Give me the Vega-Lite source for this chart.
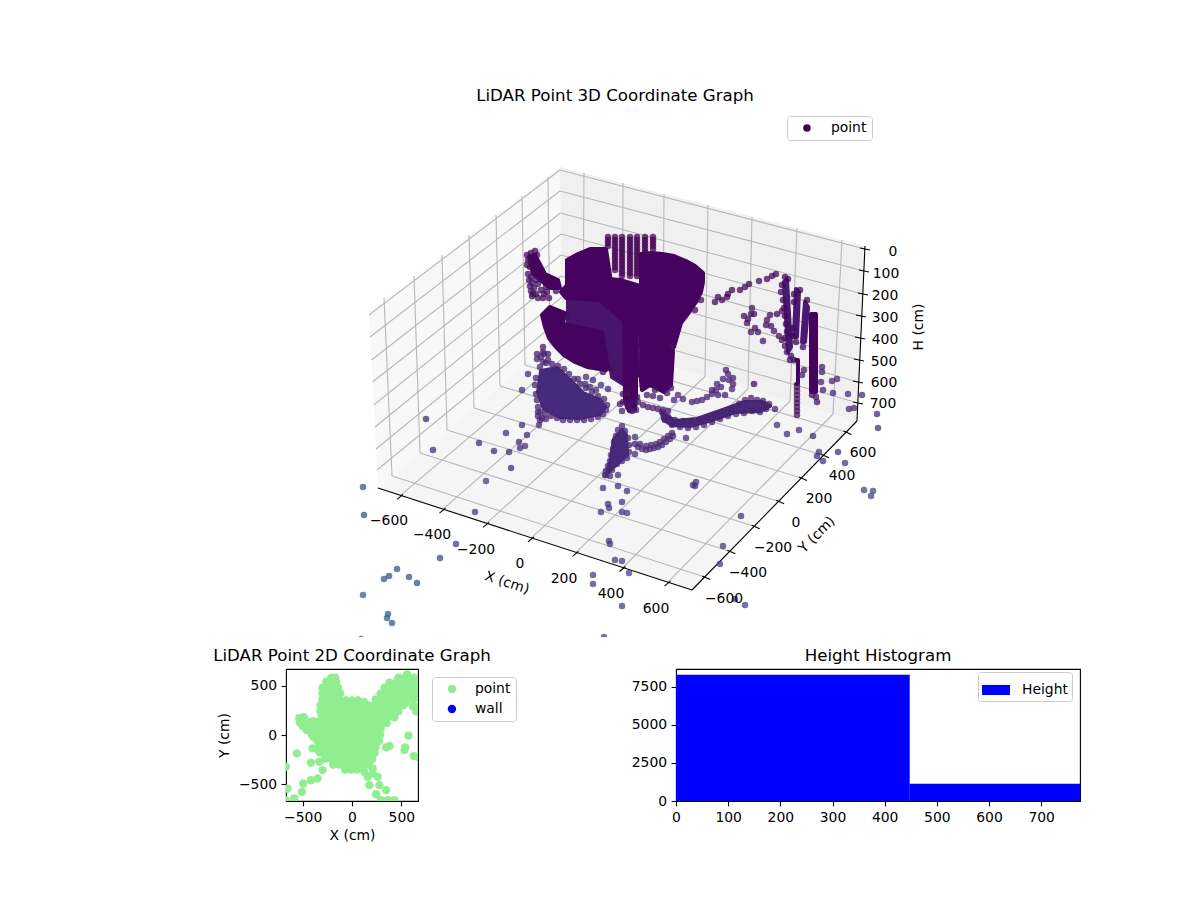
{"$schema":"https://vega.github.io/schema/vega-lite/v6.json","background":"white","padding":{"left":212,"top":88,"right":0,"bottom":0},"bounds":"flush","spacing":32,"resolve":{"scale":{"color":"independent","fill":"independent","shape":"independent","stroke":"independent"}},"config":{"font":"DejaVu Sans","view":{"stroke":"black","strokeWidth":1.1},"title":{"fontSize":16.67,"fontWeight":"normal","color":"black","offset":4},"axis":{"grid":false,"domain":false,"tickColor":"black","tickWidth":1.1,"tickSize":4.9,"labelFontSize":13.9,"titleFontSize":13.9,"titleFontWeight":"normal","labelColor":"black","titleColor":"black","labelPadding":4.5,"labelOverlap":false,"labelFlush":false,"labelBound":false},"legend":{"labelFontSize":13.9,"labelColor":"black","fillColor":"white","strokeColor":"#cccccc","cornerRadius":3}},"datasets":{"panes":[{"poly":"left","shade":"left","i":0,"x":369,"y":310},{"poly":"left","shade":"left","i":1,"x":560,"y":165},{"poly":"left","shade":"left","i":2,"x":562,"y":333},{"poly":"left","shade":"left","i":3,"x":378,"y":486},{"poly":"right","shade":"right","i":0,"x":560,"y":165},{"poly":"right","shade":"right","i":1,"x":865,"y":244},{"poly":"right","shade":"right","i":2,"x":857,"y":419},{"poly":"right","shade":"right","i":3,"x":562,"y":333},{"poly":"floor","shade":"floor","i":0,"x":378,"y":486},{"poly":"floor","shade":"floor","i":1,"x":562,"y":333},{"poly":"floor","shade":"floor","i":2,"x":857,"y":419},{"poly":"floor","shade":"floor","i":3,"x":692,"y":588}],"grid":[{"x":384,"y":296,"x2":392,"y2":474},{"x":414,"y":274,"x2":420,"y2":451},{"x":442,"y":253,"x2":447,"y2":428},{"x":469,"y":233,"x2":474,"y2":406},{"x":496,"y":213,"x2":500,"y2":384},{"x":522,"y":194,"x2":525,"y2":363},{"x":548,"y":175,"x2":550,"y2":343},{"x":584,"y":171,"x2":583,"y2":339},{"x":623,"y":181,"x2":622.5,"y2":350},{"x":664,"y":192,"x2":663,"y2":362},{"x":708,"y":203,"x2":705,"y2":374.5},{"x":752,"y":215,"x2":748,"y2":387},{"x":797,"y":226,"x2":790,"y2":399},{"x":842,"y":238,"x2":833,"y2":412},{"x":400.5,"y":493.3,"x2":583,"y2":339},{"x":443,"y":507.2,"x2":622.5,"y2":350},{"x":486.5,"y":521.3,"x2":663,"y2":362},{"x":531.5,"y":535.9,"x2":705,"y2":374.5},{"x":576,"y":550.3,"x2":748,"y2":387},{"x":623,"y":565.5,"x2":790,"y2":399},{"x":668,"y":580.2,"x2":833,"y2":412},{"x":704.7,"y":575,"x2":392,"y2":474},{"x":729.8,"y":549.3,"x2":420,"y2":451},{"x":754.2,"y":524.3,"x2":447,"y2":428},{"x":778.6,"y":499.3,"x2":474,"y2":406},{"x":801.4,"y":476,"x2":500,"y2":384},{"x":823.5,"y":453.3,"x2":525,"y2":363},{"x":846,"y":430,"x2":550,"y2":343},{"x":560,"y":168,"x2":865,"y2":247},{"x":560,"y":189,"x2":864,"y2":269},{"x":560.5,"y":211,"x2":863,"y2":292},{"x":561,"y":232,"x2":861,"y2":314},{"x":561,"y":253,"x2":860,"y2":336},{"x":561,"y":274,"x2":859,"y2":358},{"x":561.5,"y":295.5,"x2":858,"y2":380},{"x":562,"y":316,"x2":858,"y2":401},{"x":560,"y":168,"x2":369,"y2":313},{"x":560,"y":189,"x2":370,"y2":335},{"x":560.5,"y":211,"x2":371.5,"y2":358},{"x":561,"y":232,"x2":372.6,"y2":380},{"x":561,"y":253,"x2":373.7,"y2":403},{"x":561,"y":274,"x2":375,"y2":425},{"x":561.5,"y":295.5,"x2":376,"y2":447},{"x":562,"y":316,"x2":377,"y2":468}],"axis3d":[{"x":378,"y":486,"x2":692,"y2":588},{"x":692,"y":588,"x2":857,"y2":419},{"x":857,"y":419,"x2":865,"y2":244},{"x":397,"y":497.3,"x2":403,"y2":492.3},{"x":439.5,"y":511.2,"x2":445.5,"y2":506.2},{"x":483,"y":525.3,"x2":489,"y2":520.3},{"x":528,"y":539.9,"x2":534,"y2":534.9},{"x":572.5,"y":554.3,"x2":578.5,"y2":549.3},{"x":619.5,"y":569.5,"x2":625.5,"y2":564.5},{"x":664.5,"y":584.2,"x2":670.5,"y2":579.2},{"x":702.2,"y":574,"x2":710.2,"y2":577.5},{"x":727.3,"y":548.3,"x2":735.3,"y2":551.8},{"x":751.7,"y":523.3,"x2":759.7,"y2":526.8},{"x":776.1,"y":498.3,"x2":784.1,"y2":501.8},{"x":798.9,"y":475,"x2":806.9,"y2":478.5},{"x":821,"y":452.3,"x2":829,"y2":455.8},{"x":843.5,"y":429,"x2":851.5,"y2":432.5},{"x":860,"y":246,"x2":870,"y2":248},{"x":859,"y":268,"x2":869,"y2":270},{"x":858,"y":291,"x2":868,"y2":293},{"x":856,"y":313,"x2":866,"y2":315},{"x":855,"y":335,"x2":865,"y2":337},{"x":854,"y":357,"x2":864,"y2":359},{"x":853,"y":379,"x2":863,"y2":381},{"x":853,"y":400,"x2":863,"y2":402}],"labels3d":[{"label":"−600","x":389,"y":519},{"label":"−400","x":432,"y":533},{"label":"−200","x":476,"y":548},{"label":"0","x":520,"y":562},{"label":"200","x":564,"y":577},{"label":"400","x":611,"y":592},{"label":"600","x":656,"y":607},{"label":"−600","x":724,"y":597},{"label":"−400","x":748,"y":571},{"label":"−200","x":773,"y":546},{"label":"0","x":796,"y":521},{"label":"200","x":819,"y":497},{"label":"400","x":842,"y":474},{"label":"600","x":863,"y":451},{"label":"0","x":893,"y":250},{"label":"100","x":886,"y":272},{"label":"200","x":885,"y":294},{"label":"300","x":885,"y":316},{"label":"400","x":885,"y":338},{"label":"500","x":884,"y":360},{"label":"600","x":884,"y":381},{"label":"700","x":883,"y":402}],"dense":[{"poly":"m","shade":"mid","i":0,"x":568,"y":296},{"poly":"m","shade":"mid","i":1,"x":640,"y":296},{"poly":"m","shade":"mid","i":2,"x":640,"y":370},{"poly":"m","shade":"mid","i":3,"x":628,"y":385},{"poly":"m","shade":"mid","i":4,"x":612,"y":375},{"poly":"m","shade":"mid","i":5,"x":606,"y":335},{"poly":"m","shade":"mid","i":6,"x":568,"y":322},{"poly":"m","shade":"mid","i":7,"x":568,"y":296},{"poly":"a","shade":"dark","i":0,"x":567,"y":258},{"poly":"a","shade":"dark","i":1,"x":578,"y":252},{"poly":"a","shade":"dark","i":2,"x":590,"y":247},{"poly":"a","shade":"dark","i":3,"x":606,"y":247},{"poly":"a","shade":"dark","i":4,"x":611,"y":280},{"poly":"a","shade":"dark","i":5,"x":567,"y":290},{"poly":"a","shade":"dark","i":6,"x":567,"y":258},{"poly":"b","shade":"dark","i":0,"x":641,"y":252},{"poly":"b","shade":"dark","i":1,"x":652,"y":251},{"poly":"b","shade":"dark","i":2,"x":662,"y":252},{"poly":"b","shade":"dark","i":3,"x":674,"y":254},{"poly":"b","shade":"dark","i":4,"x":686,"y":259},{"poly":"b","shade":"dark","i":5,"x":695,"y":264},{"poly":"b","shade":"dark","i":6,"x":703,"y":271},{"poly":"b","shade":"dark","i":7,"x":703,"y":280},{"poly":"b","shade":"dark","i":8,"x":701,"y":290},{"poly":"b","shade":"dark","i":9,"x":696,"y":300},{"poly":"b","shade":"dark","i":10,"x":690,"y":309},{"poly":"b","shade":"dark","i":11,"x":681,"y":321},{"poly":"b","shade":"dark","i":12,"x":674,"y":345},{"poly":"b","shade":"dark","i":13,"x":641,"y":345},{"poly":"b","shade":"dark","i":14,"x":641,"y":252},{"poly":"c","shade":"dark","i":0,"x":561,"y":290},{"poly":"c","shade":"dark","i":1,"x":575,"y":274},{"poly":"c","shade":"dark","i":2,"x":620,"y":278},{"poly":"c","shade":"dark","i":3,"x":650,"y":287},{"poly":"c","shade":"dark","i":4,"x":666,"y":300},{"poly":"c","shade":"dark","i":5,"x":670,"y":330},{"poly":"c","shade":"dark","i":6,"x":668,"y":345},{"poly":"c","shade":"dark","i":7,"x":655,"y":348},{"poly":"c","shade":"dark","i":8,"x":640,"y":333},{"poly":"c","shade":"dark","i":9,"x":600,"y":298},{"poly":"c","shade":"dark","i":10,"x":566,"y":296},{"poly":"c","shade":"dark","i":11,"x":561,"y":290},{"poly":"d","shade":"dark","i":0,"x":542,"y":313},{"poly":"d","shade":"dark","i":1,"x":550,"y":305},{"poly":"d","shade":"dark","i":2,"x":565,"y":311},{"poly":"d","shade":"dark","i":3,"x":563,"y":322},{"poly":"d","shade":"dark","i":4,"x":602,"y":330},{"poly":"d","shade":"dark","i":5,"x":608,"y":366},{"poly":"d","shade":"dark","i":6,"x":606,"y":368},{"poly":"d","shade":"dark","i":7,"x":587,"y":365},{"poly":"d","shade":"dark","i":8,"x":575,"y":360},{"poly":"d","shade":"dark","i":9,"x":564,"y":353},{"poly":"d","shade":"dark","i":10,"x":556,"y":345},{"poly":"d","shade":"dark","i":11,"x":549,"y":336},{"poly":"d","shade":"dark","i":12,"x":545,"y":325},{"poly":"d","shade":"dark","i":13,"x":542,"y":313},{"poly":"e","shade":"dark","i":0,"x":624,"y":297},{"poly":"e","shade":"dark","i":1,"x":636,"y":297},{"poly":"e","shade":"dark","i":2,"x":636,"y":395},{"poly":"e","shade":"dark","i":3,"x":635,"y":408},{"poly":"e","shade":"dark","i":4,"x":629,"y":409},{"poly":"e","shade":"dark","i":5,"x":625,"y":400},{"poly":"e","shade":"dark","i":6,"x":624,"y":297},{"poly":"f","shade":"dark","i":0,"x":644,"y":325},{"poly":"f","shade":"dark","i":1,"x":655,"y":322},{"poly":"f","shade":"dark","i":2,"x":670,"y":327},{"poly":"f","shade":"dark","i":3,"x":673,"y":350},{"poly":"f","shade":"dark","i":4,"x":671,"y":383},{"poly":"f","shade":"dark","i":5,"x":664,"y":390},{"poly":"f","shade":"dark","i":6,"x":650,"y":383},{"poly":"f","shade":"dark","i":7,"x":642,"y":388},{"poly":"f","shade":"dark","i":8,"x":640,"y":370},{"poly":"f","shade":"dark","i":9,"x":644,"y":325},{"poly":"g","shade":"blob","i":0,"x":541,"y":369},{"poly":"g","shade":"blob","i":1,"x":557,"y":366},{"poly":"g","shade":"blob","i":2,"x":570,"y":378},{"poly":"g","shade":"blob","i":3,"x":583,"y":391},{"poly":"g","shade":"blob","i":4,"x":600,"y":398},{"poly":"g","shade":"blob","i":5,"x":605,"y":405},{"poly":"g","shade":"blob","i":6,"x":600,"y":412},{"poly":"g","shade":"blob","i":7,"x":580,"y":416},{"poly":"g","shade":"blob","i":8,"x":560,"y":415},{"poly":"g","shade":"blob","i":9,"x":544,"y":407},{"poly":"g","shade":"blob","i":10,"x":538,"y":390},{"poly":"g","shade":"blob","i":11,"x":541,"y":369},{"poly":"h","shade":"blob","i":0,"x":662,"y":411},{"poly":"h","shade":"blob","i":1,"x":675,"y":419},{"poly":"h","shade":"blob","i":2,"x":697,"y":417},{"poly":"h","shade":"blob","i":3,"x":720,"y":409},{"poly":"h","shade":"blob","i":4,"x":745,"y":400},{"poly":"h","shade":"blob","i":5,"x":762,"y":400},{"poly":"h","shade":"blob","i":6,"x":770,"y":404},{"poly":"h","shade":"blob","i":7,"x":760,"y":409},{"poly":"h","shade":"blob","i":8,"x":735,"y":410},{"poly":"h","shade":"blob","i":9,"x":712,"y":418},{"poly":"h","shade":"blob","i":10,"x":690,"y":424},{"poly":"h","shade":"blob","i":11,"x":672,"y":423},{"poly":"h","shade":"blob","i":12,"x":663,"y":417},{"poly":"h","shade":"blob","i":13,"x":662,"y":411},{"poly":"k","shade":"blob","i":0,"x":607,"y":471},{"poly":"k","shade":"blob","i":1,"x":611,"y":457},{"poly":"k","shade":"blob","i":2,"x":614,"y":437},{"poly":"k","shade":"blob","i":3,"x":622,"y":428},{"poly":"k","shade":"blob","i":4,"x":626,"y":433},{"poly":"k","shade":"blob","i":5,"x":627,"y":453},{"poly":"k","shade":"blob","i":6,"x":620,"y":459},{"poly":"k","shade":"blob","i":7,"x":607,"y":471},{"poly":"q","shade":"dark","i":0,"x":811,"y":312},{"poly":"q","shade":"dark","i":1,"x":816,"y":312},{"poly":"q","shade":"dark","i":2,"x":816,"y":390},{"poly":"q","shade":"dark","i":3,"x":811,"y":390},{"poly":"q","shade":"dark","i":4,"x":811,"y":312},{"poly":"r","shade":"dark","i":0,"x":796,"y":358},{"poly":"r","shade":"dark","i":1,"x":798,"y":358},{"poly":"r","shade":"dark","i":2,"x":798,"y":382},{"poly":"r","shade":"dark","i":3,"x":796,"y":382},{"poly":"s","shade":"band","i":0,"x":784,"y":280},{"poly":"s","shade":"band","i":1,"x":787,"y":278},{"poly":"s","shade":"band","i":2,"x":791,"y":345},{"poly":"s","shade":"band","i":3,"x":788,"y":350},{"poly":"s","shade":"band","i":4,"x":784,"y":280},{"poly":"t","shade":"band","i":0,"x":796,"y":287},{"poly":"t","shade":"band","i":1,"x":799,"y":290},{"poly":"t","shade":"band","i":2,"x":797,"y":335},{"poly":"t","shade":"band","i":3,"x":794,"y":335},{"poly":"t","shade":"band","i":4,"x":796,"y":287},{"poly":"u","shade":"band","i":0,"x":805,"y":300},{"poly":"u","shade":"band","i":1,"x":808,"y":305},{"poly":"u","shade":"band","i":2,"x":805,"y":340},{"poly":"u","shade":"band","i":3,"x":802,"y":340},{"poly":"u","shade":"band","i":4,"x":805,"y":300},{"poly":"v","shade":"dark","i":0,"x":529,"y":255},{"poly":"v","shade":"dark","i":1,"x":535,"y":253},{"poly":"v","shade":"dark","i":2,"x":545,"y":272},{"poly":"v","shade":"dark","i":3,"x":558,"y":278},{"poly":"v","shade":"dark","i":4,"x":560,"y":286},{"poly":"v","shade":"dark","i":5,"x":550,"y":286},{"poly":"v","shade":"dark","i":6,"x":533,"y":272},{"poly":"v","shade":"dark","i":7,"x":529,"y":255}],"points3d":[{"x":608,"y":235,"h":8},{"x":615,"y":235,"h":8},{"x":622,"y":235,"h":8},{"x":630,"y":235,"h":8},{"x":637,"y":235,"h":8},{"x":645,"y":235,"h":8},{"x":653,"y":235,"h":8},{"x":608,"y":238,"h":8},{"x":615,"y":238,"h":8},{"x":622,"y":238,"h":8},{"x":630,"y":238,"h":8},{"x":637,"y":238,"h":8},{"x":645,"y":238,"h":8},{"x":653,"y":238,"h":8},{"x":608,"y":241,"h":8},{"x":615,"y":241,"h":8},{"x":622,"y":241,"h":8},{"x":630,"y":241,"h":8},{"x":637,"y":241,"h":8},{"x":645,"y":241,"h":8},{"x":653,"y":241,"h":8},{"x":608,"y":244,"h":8},{"x":615,"y":244,"h":8},{"x":622,"y":244,"h":8},{"x":630,"y":244,"h":8},{"x":637,"y":244,"h":8},{"x":645,"y":244,"h":8},{"x":653,"y":244,"h":8},{"x":615,"y":247,"h":8},{"x":622,"y":247,"h":8},{"x":630,"y":247,"h":8},{"x":637,"y":247,"h":8},{"x":645,"y":247,"h":8},{"x":653,"y":247,"h":8},{"x":615,"y":250,"h":8},{"x":622,"y":250,"h":8},{"x":630,"y":250,"h":8},{"x":637,"y":250,"h":8},{"x":645,"y":250,"h":8},{"x":615,"y":253,"h":8},{"x":622,"y":253,"h":8},{"x":630,"y":253,"h":8},{"x":637,"y":253,"h":8},{"x":615,"y":256,"h":8},{"x":622,"y":256,"h":8},{"x":630,"y":256,"h":8},{"x":637,"y":256,"h":8},{"x":615,"y":259,"h":8},{"x":622,"y":259,"h":8},{"x":630,"y":259,"h":8},{"x":637,"y":259,"h":8},{"x":615,"y":262,"h":8},{"x":622,"y":262,"h":8},{"x":630,"y":262,"h":8},{"x":637,"y":262,"h":8},{"x":615,"y":265,"h":8},{"x":622,"y":265,"h":8},{"x":630,"y":265,"h":8},{"x":637,"y":265,"h":8},{"x":615,"y":268,"h":8},{"x":622,"y":268,"h":8},{"x":630,"y":268,"h":8},{"x":637,"y":268,"h":8},{"x":622,"y":271,"h":8},{"x":630,"y":271,"h":8},{"x":637,"y":271,"h":8},{"x":622,"y":274,"h":8},{"x":630,"y":274,"h":8},{"x":637,"y":274,"h":8},{"x":527,"y":253,"h":15},{"x":531,"y":251,"h":15},{"x":535,"y":249,"h":15},{"x":537,"y":253,"h":15},{"x":528,"y":258,"h":15},{"x":527,"y":263,"h":15},{"x":530,"y":265,"h":15},{"x":534,"y":264,"h":15},{"x":528,"y":272,"h":40},{"x":529,"y":278,"h":40},{"x":530,"y":284,"h":40},{"x":531,"y":289,"h":40},{"x":532,"y":294,"h":40},{"x":531,"y":275,"h":40},{"x":532,"y":281,"h":40},{"x":533,"y":292,"h":40},{"x":536,"y":278,"h":40},{"x":536,"y":292,"h":40},{"x":538,"y":296,"h":40},{"x":543,"y":296,"h":40},{"x":547,"y":290,"h":40},{"x":534,"y":286,"h":30},{"x":538,"y":282,"h":30},{"x":541,"y":288,"h":30},{"x":544,"y":292,"h":30},{"x":549,"y":296,"h":30},{"x":546,"y":285,"h":20},{"x":552,"y":284,"h":20},{"x":556,"y":289,"h":20},{"x":568,"y":314,"h":30},{"x":603,"y":370,"h":20},{"x":609,"y":366,"h":20},{"x":543,"y":345,"h":70},{"x":548,"y":352,"h":70},{"x":537,"y":352,"h":80},{"x":543,"y":350,"h":80},{"x":543,"y":360,"h":90},{"x":537,"y":357,"h":95},{"x":541,"y":355,"h":95},{"x":544,"y":352,"h":95},{"x":548,"y":358,"h":95},{"x":540,"y":365,"h":95},{"x":536,"y":376,"h":95},{"x":535,"y":383,"h":95},{"x":536,"y":392,"h":95},{"x":537,"y":398,"h":95},{"x":538,"y":405,"h":95},{"x":540,"y":410,"h":95},{"x":538,"y":414,"h":95},{"x":540,"y":418,"h":95},{"x":542,"y":416,"h":95},{"x":545,"y":412,"h":95},{"x":551,"y":414,"h":95},{"x":557,"y":416,"h":95},{"x":563,"y":418,"h":95},{"x":570,"y":418,"h":95},{"x":577,"y":418,"h":95},{"x":584,"y":418,"h":95},{"x":591,"y":417,"h":95},{"x":598,"y":415,"h":95},{"x":603,"y":412,"h":95},{"x":606,"y":408,"h":95},{"x":607,"y":403,"h":95},{"x":604,"y":397,"h":95},{"x":598,"y":394,"h":95},{"x":592,"y":390,"h":95},{"x":586,"y":386,"h":95},{"x":580,"y":382,"h":95},{"x":574,"y":377,"h":95},{"x":569,"y":372,"h":95},{"x":564,"y":367,"h":95},{"x":558,"y":364,"h":95},{"x":552,"y":362,"h":95},{"x":546,"y":361,"h":95},{"x":586,"y":375,"h":120},{"x":593,"y":378,"h":120},{"x":578,"y":377,"h":120},{"x":585,"y":382,"h":120},{"x":601,"y":383,"h":120},{"x":608,"y":387,"h":110},{"x":590,"y":385,"h":120},{"x":596,"y":388,"h":120},{"x":528,"y":372,"h":120},{"x":522,"y":388,"h":120},{"x":522,"y":423,"h":125},{"x":527,"y":433,"h":125},{"x":525,"y":444,"h":125},{"x":520,"y":446,"h":125},{"x":519,"y":440,"h":125},{"x":539,"y":423,"h":115},{"x":546,"y":417,"h":115},{"x":538,"y":410,"h":115},{"x":623,"y":400,"h":60},{"x":628,"y":405,"h":60},{"x":632,"y":409,"h":60},{"x":636,"y":408,"h":60},{"x":631,"y":400,"h":40},{"x":637,"y":395,"h":40},{"x":628,"y":392,"h":40},{"x":623,"y":392,"h":40},{"x":620,"y":402,"h":70},{"x":622,"y":409,"h":80},{"x":638,"y":400,"h":70},{"x":643,"y":403,"h":70},{"x":648,"y":405,"h":70},{"x":653,"y":406,"h":70},{"x":658,"y":407,"h":70},{"x":663,"y":408,"h":70},{"x":668,"y":409,"h":70},{"x":647,"y":393,"h":60},{"x":653,"y":394,"h":60},{"x":660,"y":396,"h":60},{"x":667,"y":391,"h":50},{"x":671,"y":386,"h":50},{"x":655,"y":388,"h":50},{"x":673,"y":344,"h":40},{"x":662,"y":410,"h":90},{"x":668,"y":415,"h":90},{"x":675,"y":418,"h":90},{"x":683,"y":419,"h":90},{"x":691,"y":419,"h":90},{"x":699,"y":418,"h":90},{"x":707,"y":416,"h":90},{"x":715,"y":413,"h":90},{"x":723,"y":410,"h":90},{"x":731,"y":407,"h":90},{"x":739,"y":402,"h":90},{"x":745,"y":398,"h":90},{"x":751,"y":396,"h":90},{"x":757,"y":398,"h":90},{"x":763,"y":399,"h":90},{"x":769,"y":402,"h":90},{"x":775,"y":407,"h":100},{"x":665,"y":418,"h":90},{"x":672,"y":423,"h":90},{"x":680,"y":425,"h":90},{"x":688,"y":426,"h":90},{"x":696,"y":425,"h":90},{"x":704,"y":423,"h":90},{"x":712,"y":420,"h":90},{"x":720,"y":417,"h":90},{"x":728,"y":414,"h":90},{"x":736,"y":412,"h":90},{"x":744,"y":411,"h":90},{"x":752,"y":409,"h":90},{"x":760,"y":410,"h":90},{"x":766,"y":407,"h":90},{"x":692,"y":400,"h":95},{"x":697,"y":399,"h":95},{"x":702,"y":398,"h":95},{"x":707,"y":395,"h":95},{"x":712,"y":392,"h":95},{"x":716,"y":388,"h":95},{"x":712,"y":388,"h":95},{"x":717,"y":382,"h":95},{"x":723,"y":377,"h":95},{"x":728,"y":372,"h":95},{"x":726,"y":368,"h":90},{"x":733,"y":382,"h":95},{"x":732,"y":387,"h":95},{"x":725,"y":393,"h":95},{"x":718,"y":393,"h":95},{"x":721,"y":385,"h":95},{"x":729,"y":378,"h":95},{"x":733,"y":376,"h":95},{"x":683,"y":397,"h":100},{"x":678,"y":393,"h":100},{"x":674,"y":398,"h":100},{"x":622,"y":424,"h":110},{"x":618,"y":428,"h":110},{"x":625,"y":429,"h":110},{"x":616,"y":434,"h":110},{"x":628,"y":436,"h":110},{"x":614,"y":440,"h":110},{"x":629,"y":443,"h":110},{"x":613,"y":447,"h":110},{"x":629,"y":450,"h":110},{"x":611,"y":453,"h":110},{"x":627,"y":456,"h":110},{"x":610,"y":459,"h":110},{"x":622,"y":459,"h":110},{"x":608,"y":464,"h":110},{"x":617,"y":462,"h":110},{"x":606,"y":469,"h":110},{"x":612,"y":468,"h":110},{"x":605,"y":473,"h":110},{"x":610,"y":474,"h":110},{"x":635,"y":442,"h":105},{"x":638,"y":445,"h":105},{"x":642,"y":447,"h":105},{"x":646,"y":448,"h":105},{"x":650,"y":447,"h":105},{"x":654,"y":446,"h":105},{"x":658,"y":445,"h":105},{"x":662,"y":443,"h":105},{"x":666,"y":440,"h":105},{"x":670,"y":437,"h":105},{"x":673,"y":434,"h":105},{"x":672,"y":431,"h":105},{"x":668,"y":434,"h":105},{"x":664,"y":437,"h":105},{"x":660,"y":440,"h":105},{"x":656,"y":442,"h":105},{"x":651,"y":443,"h":105},{"x":646,"y":444,"h":105},{"x":640,"y":442,"h":105},{"x":635,"y":435,"h":130},{"x":635,"y":452,"h":130},{"x":686,"y":436,"h":130},{"x":693,"y":483,"h":140},{"x":696,"y":480,"h":140},{"x":695,"y":484,"h":140},{"x":603,"y":486,"h":140},{"x":618,"y":484,"h":140},{"x":627,"y":489,"h":140},{"x":606,"y":473,"h":130},{"x":618,"y":473,"h":130},{"x":608,"y":502,"h":150},{"x":609,"y":506,"h":150},{"x":601,"y":510,"h":150},{"x":622,"y":500,"h":150},{"x":622,"y":510,"h":150},{"x":627,"y":511,"h":150},{"x":741,"y":514,"h":150},{"x":426,"y":417,"h":130},{"x":433,"y":448,"h":130},{"x":479,"y":441,"h":130},{"x":494,"y":449,"h":130},{"x":506,"y":431,"h":130},{"x":509,"y":450,"h":130},{"x":511,"y":466,"h":130},{"x":486,"y":479,"h":170},{"x":475,"y":510,"h":170},{"x":363,"y":485,"h":230},{"x":364,"y":513,"h":240},{"x":456,"y":542,"h":200},{"x":440,"y":556,"h":220},{"x":397,"y":567,"h":260},{"x":389,"y":574,"h":270},{"x":384,"y":577,"h":270},{"x":409,"y":575,"h":260},{"x":417,"y":581,"h":260},{"x":363,"y":593,"h":300},{"x":388,"y":612,"h":300},{"x":387,"y":616,"h":300},{"x":392,"y":621,"h":300},{"x":361,"y":637,"h":300},{"x":609,"y":539,"h":180},{"x":610,"y":542,"h":180},{"x":615,"y":558,"h":190},{"x":622,"y":559,"h":190},{"x":629,"y":571,"h":190},{"x":593,"y":573,"h":190},{"x":593,"y":582,"h":190},{"x":622,"y":604,"h":210},{"x":604,"y":635,"h":220},{"x":723,"y":544,"h":170},{"x":720,"y":562,"h":180},{"x":735,"y":597,"h":210},{"x":745,"y":603,"h":210},{"x":777,"y":423,"h":130},{"x":787,"y":432,"h":130},{"x":799,"y":428,"h":130},{"x":813,"y":434,"h":130},{"x":819,"y":450,"h":150},{"x":817,"y":454,"h":150},{"x":823,"y":459,"h":150},{"x":838,"y":450,"h":150},{"x":845,"y":461,"h":170},{"x":864,"y":488,"h":220},{"x":873,"y":489,"h":220},{"x":871,"y":494,"h":220},{"x":877,"y":412,"h":140},{"x":878,"y":426,"h":150},{"x":849,"y":407,"h":120},{"x":854,"y":406,"h":120},{"x":848,"y":392,"h":120},{"x":862,"y":393,"h":120},{"x":833,"y":391,"h":110},{"x":832,"y":379,"h":110},{"x":837,"y":377,"h":110},{"x":822,"y":365,"h":90},{"x":822,"y":370,"h":90},{"x":821,"y":380,"h":90},{"x":823,"y":388,"h":90},{"x":804,"y":368,"h":90},{"x":802,"y":373,"h":90},{"x":754,"y":382,"h":20},{"x":715,"y":300,"h":25},{"x":718,"y":295,"h":25},{"x":722,"y":298,"h":25},{"x":727,"y":295,"h":25},{"x":728,"y":292,"h":25},{"x":732,"y":288,"h":25},{"x":740,"y":288,"h":25},{"x":745,"y":285,"h":25},{"x":749,"y":282,"h":25},{"x":759,"y":279,"h":25},{"x":767,"y":277,"h":25},{"x":772,"y":274,"h":25},{"x":776,"y":272,"h":25},{"x":701,"y":298,"h":40},{"x":695,"y":308,"h":40},{"x":744,"y":314,"h":40},{"x":748,"y":317,"h":40},{"x":747,"y":321,"h":40},{"x":752,"y":306,"h":40},{"x":751,"y":312,"h":40},{"x":754,"y":312,"h":40},{"x":751,"y":330,"h":50},{"x":755,"y":326,"h":50},{"x":758,"y":330,"h":50},{"x":763,"y":339,"h":60},{"x":770,"y":313,"h":40},{"x":767,"y":318,"h":40},{"x":766,"y":323,"h":40},{"x":771,"y":324,"h":40},{"x":777,"y":312,"h":40},{"x":782,"y":309,"h":40},{"x":774,"y":329,"h":50},{"x":779,"y":334,"h":50},{"x":782,"y":338,"h":50},{"x":785,"y":275,"h":15},{"x":788,"y":277,"h":15},{"x":782,"y":283,"h":15},{"x":781,"y":290,"h":15},{"x":783,"y":298,"h":15},{"x":784,"y":306,"h":15},{"x":785,"y":314,"h":15},{"x":786,"y":322,"h":15},{"x":787,"y":330,"h":15},{"x":785,"y":336,"h":30},{"x":785,"y":344,"h":30},{"x":787,"y":350,"h":30},{"x":791,"y":354,"h":30},{"x":794,"y":358,"h":30},{"x":790,"y":358,"h":30},{"x":800,"y":288,"h":15},{"x":794,"y":292,"h":15},{"x":794,"y":300,"h":15},{"x":793,"y":326,"h":15},{"x":793,"y":334,"h":15},{"x":796,"y":340,"h":15},{"x":807,"y":298,"h":15},{"x":803,"y":345,"h":25},{"x":812,"y":393,"h":40},{"x":816,"y":395,"h":40},{"x":817,"y":400,"h":50},{"x":797,"y":385,"h":40},{"x":797,"y":389,"h":50},{"x":797,"y":393,"h":50},{"x":797,"y":397,"h":50},{"x":797,"y":401,"h":50},{"x":797,"y":405,"h":50},{"x":797,"y":409,"h":50},{"x":797,"y":413,"h":50}],"points2d":[{"x":-355,"y":0},{"x":-300,"y":0},{"x":-240,"y":0},{"x":-180,"y":0},{"x":-120,"y":0},{"x":-60,"y":0},{"x":0,"y":0},{"x":60,"y":0},{"x":120,"y":0},{"x":180,"y":0},{"x":240,"y":0},{"x":285,"y":0},{"x":-350,"y":60},{"x":-300,"y":60},{"x":-240,"y":60},{"x":-180,"y":60},{"x":-120,"y":60},{"x":-60,"y":60},{"x":0,"y":60},{"x":60,"y":60},{"x":120,"y":60},{"x":180,"y":60},{"x":240,"y":60},{"x":290,"y":60},{"x":-350,"y":-60},{"x":-300,"y":-60},{"x":-240,"y":-60},{"x":-180,"y":-60},{"x":-120,"y":-60},{"x":-60,"y":-60},{"x":0,"y":-60},{"x":60,"y":-60},{"x":120,"y":-60},{"x":180,"y":-60},{"x":240,"y":-60},{"x":275,"y":-60},{"x":-334,"y":120},{"x":-300,"y":120},{"x":-240,"y":120},{"x":-180,"y":120},{"x":-120,"y":120},{"x":-60,"y":120},{"x":0,"y":120},{"x":60,"y":120},{"x":120,"y":120},{"x":180,"y":120},{"x":240,"y":120},{"x":300,"y":120},{"x":350,"y":120},{"x":-334,"y":-120},{"x":-300,"y":-120},{"x":-240,"y":-120},{"x":-180,"y":-120},{"x":-120,"y":-120},{"x":-60,"y":-120},{"x":0,"y":-120},{"x":60,"y":-120},{"x":120,"y":-120},{"x":180,"y":-120},{"x":240,"y":-120},{"x":-306,"y":180},{"x":-240,"y":180},{"x":-180,"y":180},{"x":-120,"y":180},{"x":-60,"y":180},{"x":0,"y":180},{"x":60,"y":180},{"x":120,"y":180},{"x":180,"y":180},{"x":240,"y":180},{"x":300,"y":180},{"x":360,"y":180},{"x":430,"y":180},{"x":-306,"y":-180},{"x":-240,"y":-180},{"x":-180,"y":-180},{"x":-120,"y":-180},{"x":-60,"y":-180},{"x":0,"y":-180},{"x":60,"y":-180},{"x":120,"y":-180},{"x":180,"y":-180},{"x":230,"y":-180},{"x":-320,"y":240},{"x":-262,"y":240},{"x":-200,"y":240},{"x":-140,"y":240},{"x":-80,"y":240},{"x":-20,"y":240},{"x":40,"y":240},{"x":100,"y":240},{"x":160,"y":240},{"x":220,"y":240},{"x":280,"y":240},{"x":340,"y":240},{"x":400,"y":240},{"x":470,"y":240},{"x":650,"y":240},{"x":-270,"y":-240},{"x":-210,"y":-240},{"x":-150,"y":-240},{"x":-90,"y":-240},{"x":-30,"y":-240},{"x":30,"y":-240},{"x":90,"y":-240},{"x":150,"y":-240},{"x":205,"y":-240},{"x":-320,"y":300},{"x":-260,"y":300},{"x":-190,"y":300},{"x":-130,"y":300},{"x":-70,"y":300},{"x":-10,"y":300},{"x":50,"y":300},{"x":110,"y":300},{"x":170,"y":300},{"x":230,"y":300},{"x":290,"y":300},{"x":350,"y":300},{"x":410,"y":300},{"x":470,"y":300},{"x":520,"y":300},{"x":545,"y":330},{"x":620,"y":290},{"x":670,"y":290},{"x":-190,"y":-300},{"x":-130,"y":-300},{"x":-70,"y":-300},{"x":-10,"y":-300},{"x":50,"y":-300},{"x":110,"y":-300},{"x":175,"y":-300},{"x":-70,"y":-350},{"x":-10,"y":-350},{"x":50,"y":-350},{"x":-300,"y":360},{"x":-240,"y":360},{"x":-180,"y":360},{"x":-120,"y":360},{"x":-60,"y":350},{"x":0,"y":350},{"x":60,"y":350},{"x":120,"y":335},{"x":240,"y":360},{"x":300,"y":360},{"x":360,"y":360},{"x":420,"y":360},{"x":480,"y":360},{"x":540,"y":360},{"x":620,"y":360},{"x":290,"y":420},{"x":350,"y":420},{"x":410,"y":420},{"x":470,"y":420},{"x":530,"y":420},{"x":590,"y":420},{"x":660,"y":420},{"x":330,"y":480},{"x":390,"y":480},{"x":450,"y":480},{"x":510,"y":480},{"x":570,"y":480},{"x":630,"y":480},{"x":660,"y":480},{"x":380,"y":530},{"x":440,"y":530},{"x":500,"y":530},{"x":560,"y":530},{"x":620,"y":530},{"x":660,"y":530},{"x":470,"y":580},{"x":530,"y":580},{"x":570,"y":580},{"x":630,"y":580},{"x":560,"y":615},{"x":-300,"y":420},{"x":-240,"y":420},{"x":-180,"y":420},{"x":-120,"y":420},{"x":-300,"y":480},{"x":-240,"y":480},{"x":-180,"y":480},{"x":-140,"y":480},{"x":-260,"y":540},{"x":-200,"y":540},{"x":-160,"y":540},{"x":-210,"y":580},{"x":-170,"y":580},{"x":-535,"y":170},{"x":-490,"y":180},{"x":-530,"y":130},{"x":-490,"y":130},{"x":-440,"y":130},{"x":-390,"y":140},{"x":-500,"y":90},{"x":-450,"y":90},{"x":-400,"y":90},{"x":-460,"y":50},{"x":-410,"y":50},{"x":-410,"y":10},{"x":-390,"y":-20},{"x":-340,"y":130},{"x":-400,"y":-136},{"x":-332,"y":-170},{"x":-559,"y":-186},{"x":-671,"y":-322},{"x":-417,"y":-281},{"x":-332,"y":-271},{"x":-298,"y":-356},{"x":-349,"y":-441},{"x":-417,"y":-458},{"x":-495,"y":-492},{"x":-508,"y":-576},{"x":-654,"y":-542},{"x":-586,"y":-644},{"x":-671,"y":-661},{"x":125,"y":-373},{"x":210,"y":-339},{"x":176,"y":-508},{"x":261,"y":-424},{"x":278,"y":-508},{"x":346,"y":-559},{"x":244,"y":-600},{"x":295,"y":-661},{"x":430,"y":-661},{"x":363,"y":-661},{"x":210,"y":-390},{"x":159,"y":-424},{"x":380,"y":-112},{"x":346,"y":-125},{"x":532,"y":-153},{"x":539,"y":-125},{"x":573,"y":-7},{"x":627,"y":-214},{"x":668,"y":-220}],"heights":[{"start":0,"end":448,"count":8309},{"start":447.6,"end":774.4,"count":1138}]},"vconcat":[{"width":794,"height":530,"view":{"stroke":null},"title":{"text":"LiDAR Point 3D Coordinate Graph","dx":-68,"offset":2},"encoding":{"x":{"field":"x","type":"quantitative","scale":{"domain":[286,1080],"nice":false,"zero":false},"axis":null},"y":{"field":"y","type":"quantitative","scale":{"domain":[635,105],"nice":false,"zero":false},"axis":null}},"layer":[{"data":{"name":"panes"},"mark":{"type":"line","strokeWidth":0},"encoding":{"detail":{"field":"poly"},"order":{"field":"i"},"fill":{"field":"shade","scale":{"domain":["left","right","floor","dark","mid","blob","band"],"range":["#f8f8f8","#f0f0f0","#f5f5f5","#45035f","#48146c","#462a7c","#4a1a73"]},"legend":null}}},{"data":{"name":"grid"},"mark":{"type":"rule","color":"#b8b8b8","strokeWidth":1.1},"encoding":{"x2":{"field":"x2"},"y2":{"field":"y2"}}},{"data":{"name":"axis3d"},"mark":{"type":"rule","color":"black","strokeWidth":1.1},"encoding":{"x2":{"field":"x2"},"y2":{"field":"y2"}}},{"data":{"name":"dense"},"mark":{"type":"line","strokeWidth":4,"strokeJoin":"round","strokeCap":"round"},"encoding":{"detail":{"field":"poly"},"order":{"field":"i"},"fill":{"field":"shade","legend":null},"stroke":{"field":"shade","scale":{"domain":["dark","mid","blob","band"],"range":["#45035f","#48146c","#462a7c","#4a1a73"]},"legend":null}}},{"data":{"name":"points3d"},"mark":{"type":"point","filled":true,"size":42,"opacity":0.75,"clip":true},"encoding":{"color":{"field":"h","type":"quantitative","scale":{"scheme":"viridis","domain":[0,1000]},"legend":null},"shape":{"datum":"point","scale":{"domain":["point"],"range":["circle"]},"legend":{"title":null,"orient":"none","legendX":501,"legendY":9,"symbolFillColor":"#440154","symbolStrokeColor":"#440154","symbolSize":36,"symbolOpacity":1,"symbolOffset":8,"labelOffset":17,"padding":5}}}},{"data":{"name":"labels3d"},"mark":{"type":"text","fontSize":13.9,"color":"black","baseline":"middle","align":"center"},"encoding":{"text":{"field":"label"}}},{"data":{"values":[{"x":507,"y":581,"label":"X (cm)"}]},"mark":{"type":"text","fontSize":13.9,"color":"black","baseline":"middle","align":"center","angle":18},"encoding":{"text":{"field":"label"}}},{"data":{"values":[{"x":817,"y":533,"label":"Y (cm)"}]},"mark":{"type":"text","fontSize":13.9,"color":"black","baseline":"middle","align":"center","angle":315},"encoding":{"text":{"field":"label"}}},{"data":{"values":[{"x":919,"y":325,"label":"H (cm)"}]},"mark":{"type":"text","fontSize":13.9,"color":"black","baseline":"middle","align":"center","angle":270},"encoding":{"text":{"field":"label"}}}]},{"bounds":"flush","spacing":258,"resolve":{"scale":{"color":"independent"}},"hconcat":[{"width":132,"height":132,"title":"LiDAR Point 2D Coordinate Graph","data":{"name":"points2d"},"mark":{"type":"point","filled":true,"size":70,"opacity":1,"clip":true},"encoding":{"x":{"field":"x","type":"quantitative","title":"X (cm)","scale":{"domain":[-669,669],"nice":false,"zero":false},"axis":{"values":[-500,0,500]}},"y":{"field":"y","type":"quantitative","title":"Y (cm)","scale":{"domain":[-669,669],"nice":false,"zero":false},"axis":{"values":[-500,0,500],"titlePadding":7}},"color":{"datum":"point","scale":{"domain":["point","wall"],"range":["#90ee90","#0000ff"]},"legend":{"title":null,"orient":"none","legendX":146,"legendY":8,"symbolType":"circle","symbolSize":70,"symbolOpacity":1,"symbolOffset":8,"labelOffset":16,"padding":5,"rowPadding":5}}}},{"width":404,"height":132,"title":"Height Histogram","data":{"name":"heights"},"mark":{"type":"bar"},"encoding":{"x":{"field":"start","type":"quantitative","title":null,"scale":{"domain":[0,774.4],"nice":false,"zero":false},"axis":{"values":[0,100,200,300,400,500,600,700]}},"x2":{"field":"end"},"y":{"field":"count","type":"quantitative","title":null,"scale":{"domain":[0,8684],"nice":false},"axis":{"values":[0,2500,5000,7500],"format":"d"}},"y2":{"datum":0},"color":{"datum":"Height","scale":{"domain":["Height"],"range":["#0000ff"]},"legend":{"title":null,"orient":"none","legendX":302,"legendY":3,"symbolType":"M-1,-0.36H1V0.36H-1Z","symbolSize":784,"symbolStrokeWidth":0,"labelOffset":12,"padding":4}}}}]}]}
